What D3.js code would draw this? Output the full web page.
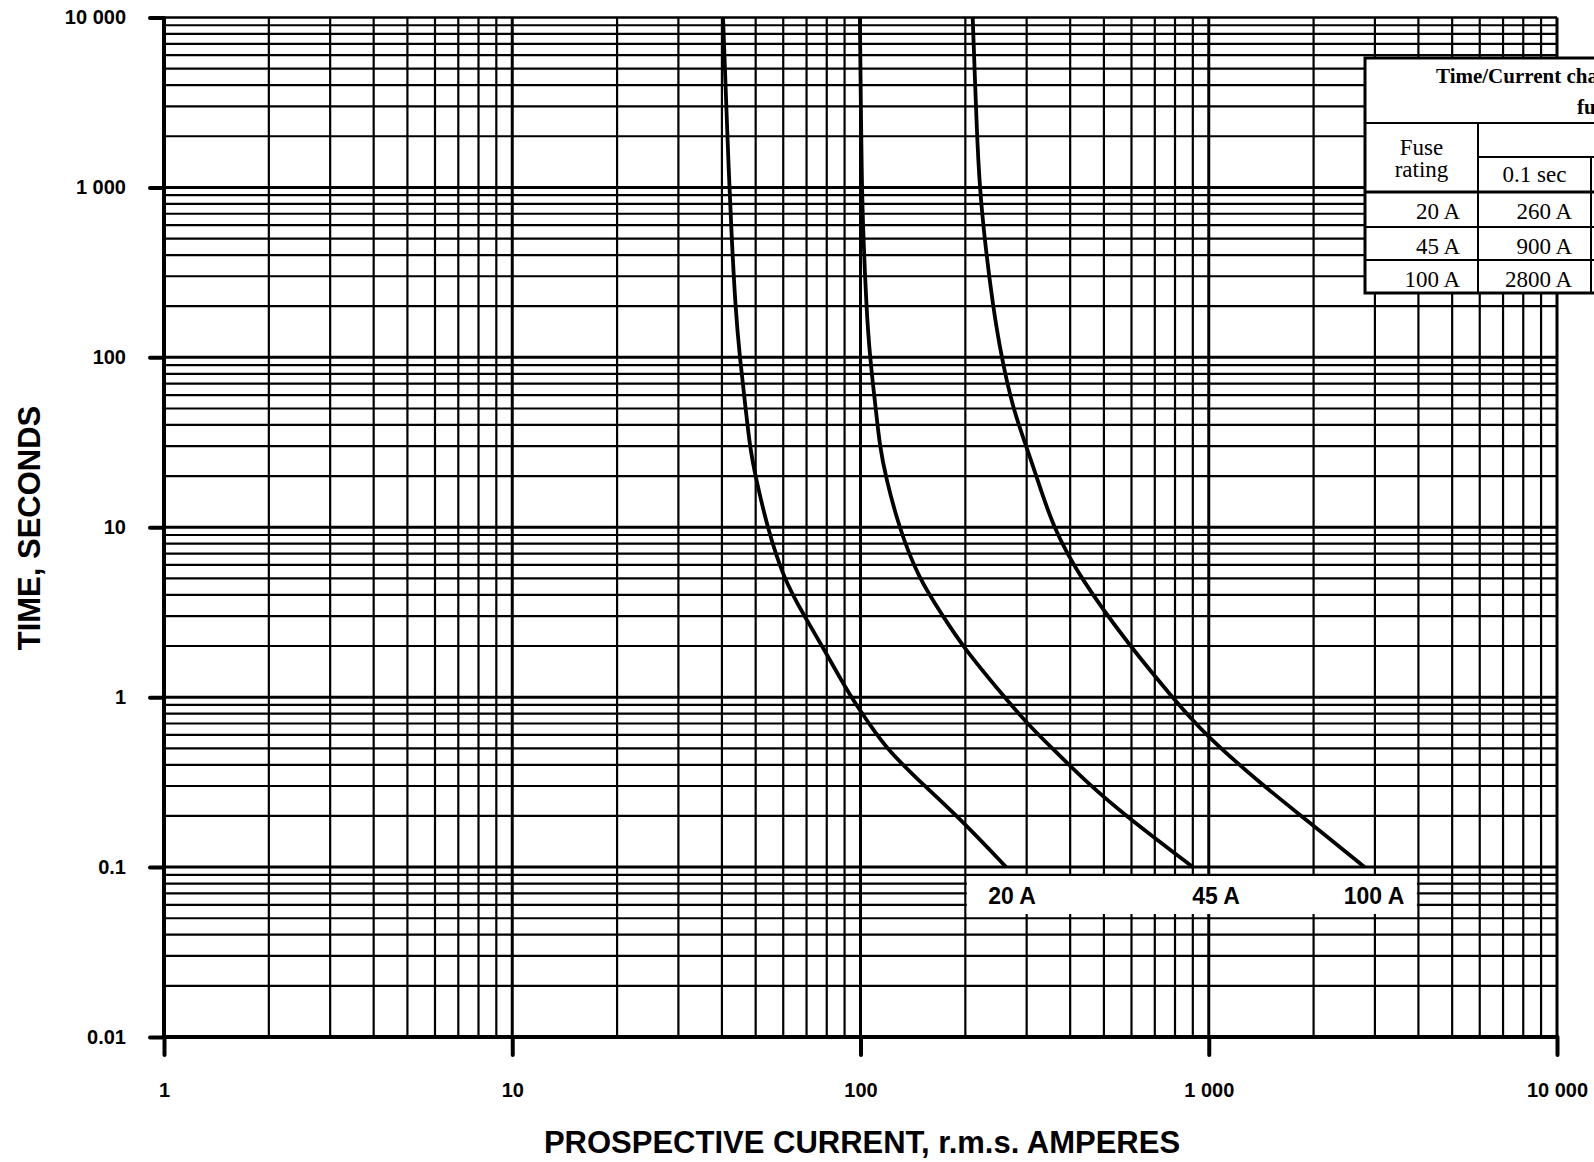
<!DOCTYPE html>
<html>
<head>
<meta charset="utf-8">
<script src="https://d3js.org/d3.v7.min.js"></script>
<style>
	body { margin: 0; background: #fff; }
	svg { display: block; }
	.tick text {
		font-family: "Liberation Sans", Arial, sans-serif;
		font-weight: bold;
		font-size: 20px;
		fill: #000;
	}
	.axis-title {
		font-family: "Liberation Sans", Arial, sans-serif;
		font-weight: bold;
		font-size: 31px;
	}
	.curve-label {
		font-family: "Liberation Sans", Arial, sans-serif;
		font-weight: bold;
		font-size: 23px;
	}
	.tbl text {
		font-family: "Liberation Serif", "Times New Roman", serif;
		font-size: 23px;
	}
</style>
</head>
<body>
<svg id="chart" width="1594" height="1162"></svg>
<script>
// Fuse ratings and their time/current curves
var ratings = [20, 45, 100];

var times20 = [10000, 1000, 500, 200, 100, 50, 30, 20, 10, 5, 3, 2, 1, 0.7, 0.5, 0.3, 0.2, 0.1];
var amps20  = [40.3, 42.0, 42.7, 43.7, 45.0, 46.8, 48.1, 49.9, 54.0, 60.1, 69.0, 77.6, 93.7, 105.9, 118.4, 152.6, 189.6, 262];

var times45 = [10000, 1000, 500, 200, 100, 50, 30, 20, 10, 5, 3, 2, 1, 0.7, 0.5, 0.3, 0.2, 0.1];
var amps45  = [99.6, 100.8, 102, 103.9, 106.4, 110.6, 113.6, 118, 128.9, 146.8, 172.6, 196, 259, 301, 355, 458, 578, 900];

var times100 = [10000, 2000, 1000, 500, 200, 100, 50, 30, 20, 10, 5, 2, 1, 0.6, 0.3, 0.2, 0.1];
var amps100  = [210, 216, 220, 227, 240, 254, 274, 299, 320, 357, 428, 593, 786, 975, 1438, 1846, 2800];

// Table: current needed to blow in 0.1 sec
var tableRatings = [20, 45, 100];
var tableAt01 = [260, 900, 2800];

var xMajor = [1, 10, 100, 1000, 10000];
var yMajor = [0.01, 0.1, 1, 10, 100, 1000, 10000];

///////////////////////////
// Scales
///////////////////////////
var svg = d3.select("#chart");

var plotLeft = 164, plotRight = 1557, plotTop = 17.5, plotBottom = 1037;

var x = d3.scaleLog().domain([1, 10000]).range([plotLeft, plotRight]);
var y = d3.scaleLog().domain([0.01, 10000]).range([plotBottom, plotTop]);

function isMajor(v) {
	var l = Math.log10(v);
	return Math.abs(l - Math.round(l)) < 1e-9;
}
function fmt(v) {
	if (v >= 1000) return d3.format(",")(v).replace(/,/g, " ");
	return String(v);
}

///////////////////////////
// Grid
///////////////////////////
var grid = svg.append("g").attr("stroke", "#000");

grid.selectAll("line.v").data(x.ticks()).enter().append("line")
	.attr("class", "v")
	.attr("x1", function (d) { return x(d); })
	.attr("x2", function (d) { return x(d); })
	.attr("y1", plotTop)
	.attr("y2", plotBottom)
	.attr("stroke-width", function (d) {
		if (d == 1) return 4;
		return isMajor(d) ? 3 : 2.2;
	});

grid.selectAll("line.h").data(y.ticks()).enter().append("line")
	.attr("class", "h")
	.attr("x1", plotLeft)
	.attr("x2", plotRight)
	.attr("y1", function (d) { return y(d); })
	.attr("y2", function (d) { return y(d); })
	.attr("stroke-width", function (d) {
		if (d == 0.01) return 4;
		if (d == 10000) return 2.5;
		return isMajor(d) ? 3 : 2.2;
	});

///////////////////////////
// Axes
///////////////////////////
var yAxis = svg.append("g")
	.attr("transform", "translate(" + plotLeft + ",0)")
	.call(d3.axisLeft(y).tickValues(yMajor).tickFormat(fmt).tickSize(14).tickPadding(24));

var xAxis = svg.append("g")
	.attr("transform", "translate(0," + plotBottom + ")")
	.call(d3.axisBottom(x).tickValues(xMajor).tickFormat(fmt).tickSize(18).tickPadding(28));

[yAxis, xAxis].forEach(function (a) {
	a.select(".domain").remove();
	a.selectAll(".tick line")
		.attr("stroke", "#000")
		.attr("stroke-width", 4)
		.attr("stroke-linecap", "round");
});

svg.append("text")
	.attr("class", "axis-title")
	.attr("x", 862)
	.attr("y", 1153)
	.attr("text-anchor", "middle")
	.text("PROSPECTIVE CURRENT, r.m.s. AMPERES");

svg.append("text")
	.attr("class", "axis-title")
	.attr("transform", "translate(39.5,528) rotate(-90)")
	.attr("text-anchor", "middle")
	.text("TIME, SECONDS");

///////////////////////////
// Curves
///////////////////////////
var curves = [
	{ rating: ratings[0], t: times20, i: amps20 },
	{ rating: ratings[1], t: times45, i: amps45 },
	{ rating: ratings[2], t: times100, i: amps100 }
];

var line = d3.line()
	.x(function (d) { return x(d[0]); })
	.y(function (d) { return y(d[1]); })
	.curve(d3.curveBasis);

svg.selectAll("path.curve").data(curves).enter().append("path")
	.attr("class", "curve")
	.attr("fill", "none")
	.attr("stroke", "#000")
	.attr("stroke-width", 3.8)
	.attr("stroke-linejoin", "round")
	.attr("d", function (c) { return line(d3.zip(c.i, c.t)); });

// White strip for the curve labels
svg.append("rect")
	.attr("x", x(200) + 1.5)
	.attr("y", 876)
	.attr("width", x(4000) - x(200) - 3)
	.attr("height", 38)
	.attr("fill", "#fff");

var labelX = [1012, 1216, 1374];
svg.selectAll("text.curve-label").data(curves).enter().append("text")
	.attr("class", "curve-label")
	.attr("x", function (c, k) { return labelX[k]; })
	.attr("y", 904)
	.attr("text-anchor", "middle")
	.text(function (c) { return c.rating + " A"; });

///////////////////////////
// Table (cut off by the right edge)
///////////////////////////
var tbl = svg.append("g").attr("class", "tbl");
var tx0 = 1365, col1 = 1478, col2 = 1591;
var rowTop = [192, 227, 260], rowBottom = 293;

tbl.append("rect")
	.attr("x", tx0).attr("y", 58)
	.attr("width", 400).attr("height", rowBottom - 58)
	.attr("fill", "#fff").attr("stroke", "#000").attr("stroke-width", 3);

function hline(x1, x2, yy, w) {
	tbl.append("line").attr("x1", x1).attr("x2", x2).attr("y1", yy).attr("y2", yy)
		.attr("stroke", "#000").attr("stroke-width", w);
}
function vline(xx, y1, y2, w) {
	tbl.append("line").attr("x1", xx).attr("x2", xx).attr("y1", y1).attr("y2", y2)
		.attr("stroke", "#000").attr("stroke-width", w);
}
hline(tx0, 1600, 123, 2);
hline(col1, 1600, 157, 2);
hline(tx0, 1600, 192, 3);
hline(tx0, 1600, 227, 2);
hline(tx0, 1600, 260, 2);
vline(col1, 123, rowBottom, 2);
vline(col2, 157, rowBottom, 2);

tbl.append("text").attr("x", 1436).attr("y", 83)
	.style("font-weight", "bold").style("font-size", "21px")
	.text("Time/Current cha");
tbl.append("text").attr("x", 1577).attr("y", 114)
	.style("font-weight", "bold").style("font-size", "21px")
	.text("fu");

tbl.append("text").attr("x", (tx0 + col1) / 2).attr("y", 155).attr("text-anchor", "middle").text("Fuse");
tbl.append("text").attr("x", (tx0 + col1) / 2).attr("y", 177).attr("text-anchor", "middle").text("rating");
tbl.append("text").attr("x", (col1 + col2) / 2).attr("y", 182).attr("text-anchor", "middle").text("0.1 sec");

tbl.selectAll("text.r").data(tableRatings).enter().append("text")
	.attr("class", "r")
	.attr("x", 1460)
	.attr("y", function (d, k) { return rowTop[k] + 27; })
	.attr("text-anchor", "end")
	.text(function (d) { return d + " A"; });

tbl.selectAll("text.c").data(tableAt01).enter().append("text")
	.attr("class", "c")
	.attr("x", 1572)
	.attr("y", function (d, k) { return rowTop[k] + 27; })
	.attr("text-anchor", "end")
	.text(function (d) { return d + " A"; });
</script>
</body>
</html>
